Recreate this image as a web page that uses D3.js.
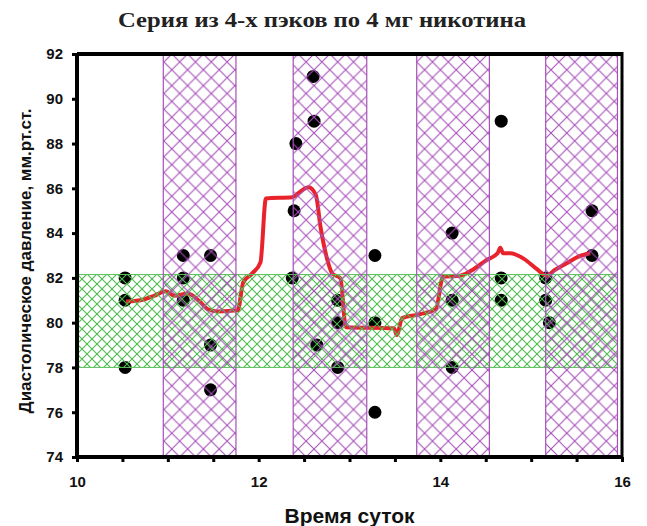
<!DOCTYPE html>
<html>
<head>
<meta charset="utf-8">
<script src="https://cdn.jsdelivr.net/npm/d3@7/dist/d3.min.js"></script>
<style>
  body { margin: 0; background: #fff; }
  text { font-family: "Liberation Sans", Arial, sans-serif; font-weight: bold; }
</style>
</head>
<body>
<svg id="chart" width="647" height="526"></svg>
<script>
// Diastolic pressure chart, series of 4 packs

var chartTitle = "Серия из 4-х пэков по 4 мг никотина";
var xTitle = "Время суток";
var yTitle = "Диастолическое давление, мм.рт.ст.";

var xTickLabels = [10, 12, 14, 16];
var yTickLabels = [74, 76, 78, 80, 82, 84, 86, 88, 90, 92];

// smoking periods (hatched purple)
var packStart = [10.95, 12.38, 13.74, 15.16];
var packEnd = [11.75, 13.19, 14.54, 15.95];

// normal range (hatched green)
var normLow = 78;
var normHigh = 82.15;

// measured points
var pointX = [10.53, 10.53, 10.53,
    11.17, 11.17, 11.17, 11.47, 11.47, 11.47,
    12.37, 12.39, 12.41, 12.6, 12.61, 12.64, 12.87, 12.87, 12.87,
    13.28, 13.28, 13.28,
    14.13, 14.13, 14.13, 14.67, 14.67, 14.67,
    15.16, 15.16, 15.2, 15.67, 15.67];
var pointY = [82, 81, 78,
    83, 82, 81, 83, 79, 77,
    82, 85, 88, 91, 89, 79, 81, 80, 78,
    83, 80, 76,
    84, 81, 78, 89, 82, 81,
    82, 81, 80, 85, 83];

// smoothed curve
var lineX = [10.54, 10.7, 10.85, 10.98, 11.07, 11.22, 11.35, 11.44, 11.55, 11.77,
    11.83, 11.93, 12.02, 12.08, 12.37, 12.44, 12.55, 12.63, 12.68, 12.75, 12.81,
    12.9, 12.96, 13.49, 13.52, 13.58, 13.74, 13.95, 14.03, 14.22, 14.37, 14.51,
    14.63, 14.66, 14.69, 14.77, 14.92, 15.06, 15.17, 15.26, 15.39, 15.52, 15.65];
var lineY = [80.95, 81.0, 81.2, 81.4, 81.2, 81.3, 80.95, 80.6, 80.5, 80.55,
    81.8, 82.2, 82.7, 85.55, 85.6, 85.8, 86.05, 85.7, 84.3, 82.9, 82.2,
    81.98, 79.8, 79.75, 79.45, 80.2, 80.35, 80.6, 82.05, 82.1, 82.4, 82.8,
    83.1, 83.35, 83.1, 83.1, 82.85, 82.4, 82.1, 82.35, 82.65, 82.95, 83.1];

var svg = d3.select("#chart");
var margin = {left: 77, right: 25, top: 54, bottom: 69};
var width = 647 - margin.left - margin.right;
var height = 526 - margin.top - margin.bottom;

var x = d3.scaleLinear().domain([10, 16]).range([0, width]);
var y = d3.scaleLinear().domain([74, 92]).range([height, 0]);

var defs = svg.append("defs");
function hatch(id, size, color, w) {
    var p = defs.append("pattern")
        .attr("id", id)
        .attr("patternUnits", "userSpaceOnUse")
        .attr("width", size)
        .attr("height", size);
    p.append("path")
        .attr("d", "M0,0L" + size + "," + size + "M" + size + ",0L0," + size)
        .attr("stroke", color)
        .attr("stroke-width", w)
        .attr("fill", "none");
}
hatch("purpleHatch", 15.8, "#a650b8", 1.1);
hatch("greenHatch", 10, "#4cbb4c", 1.1);

var g = svg.append("g").attr("transform", "translate(" + margin.left + "," + margin.top + ")");

// points
g.append("g").selectAll("circle")
    .data(pointX)
    .enter()
    .append("circle")
    .attr("cx", function(d) { return x(d); })
    .attr("cy", function(d, i) { return y(pointY[i]); })
    .attr("r", 6.5)
    .style("fill", "#000");

// red curve
var line = d3.line()
    .x(function(d) { return x(d); })
    .y(function(d, i) { return y(lineY[i]); })
    .curve(d3.curveMonotoneX);
g.append("path")
    .attr("d", line(lineX))
    .attr("fill", "none")
    .attr("stroke", "#e8232b")
    .attr("stroke-width", 4)
    .attr("stroke-linejoin", "round");

// hatched bands on top
g.append("rect")
    .attr("x", x(10))
    .attr("width", x(15.95) - x(10))
    .attr("y", y(normHigh))
    .attr("height", y(normLow) - y(normHigh))
    .attr("fill", "url(#greenHatch)")
    .attr("stroke", "#5cc25c")
    .attr("stroke-width", 1);

g.append("g").selectAll("rect")
    .data(packStart)
    .enter()
    .append("rect")
    .attr("x", function(d) { return x(d); })
    .attr("width", function(d, i) { return x(packEnd[i]) - x(d); })
    .attr("y", y(92))
    .attr("height", y(74) - y(92))
    .attr("fill", "url(#purpleHatch)")
    .attr("stroke", "#a650b8")
    .attr("stroke-width", 1.2);

// frame
g.append("line").attr("x1", 0).attr("x2", width).attr("y1", 0).attr("y2", 0)
    .attr("stroke", "#000").attr("stroke-width", 4);
g.append("line").attr("x1", width).attr("x2", width).attr("y1", -2).attr("y2", height)
    .attr("stroke", "#000").attr("stroke-width", 3);

// axes
var xAxis = d3.axisBottom(x)
    .tickValues(d3.range(10, 16.01, 0.5))
    .tickSize(5)
    .tickPadding(14)
    .tickFormat(function(d) { return xTickLabels.indexOf(d) >= 0 ? d : ""; });
var gx = g.append("g").attr("transform", "translate(0," + height + ")").call(xAxis);

var yAxis = d3.axisLeft(y)
    .tickValues(yTickLabels)
    .tickSize(5)
    .tickPadding(9);
var gy = g.append("g").call(yAxis);

[gx, gy].forEach(function(a) {
    a.select(".domain").attr("stroke", "#000").attr("stroke-width", 4);
    a.selectAll(".tick line").attr("stroke", "#000").attr("stroke-width", 3);
    a.selectAll(".tick text")
        .style("font-size", "15px")
        .style("font-family", "'Liberation Sans', Arial, sans-serif")
        .style("font-weight", "bold")
        .attr("fill", "#111");
});
gy.select(".domain").attr("d", "M0,0V" + height);
gx.select(".domain").attr("d", "M-2,0H" + width);

// titles
svg.append("text")
    .attr("x", 322)
    .attr("y", 27)
    .attr("text-anchor", "middle")
    .attr("textLength", 408)
    .attr("lengthAdjust", "spacingAndGlyphs")
    .style("font-family", "'Liberation Serif', 'Times New Roman', serif")
    .style("font-size", "22px")
    .attr("fill", "#222")
    .text(chartTitle);

svg.append("text")
    .attr("x", margin.left + width / 2)
    .attr("y", 523)
    .attr("text-anchor", "middle")
    .style("font-size", "21px")
    .attr("fill", "#111")
    .text(xTitle);

svg.append("text")
    .attr("transform", "translate(31,261) rotate(-90)")
    .attr("text-anchor", "middle")
    .style("font-size", "17px")
    .attr("fill", "#111")
    .text(yTitle);
</script>
</body>
</html>
